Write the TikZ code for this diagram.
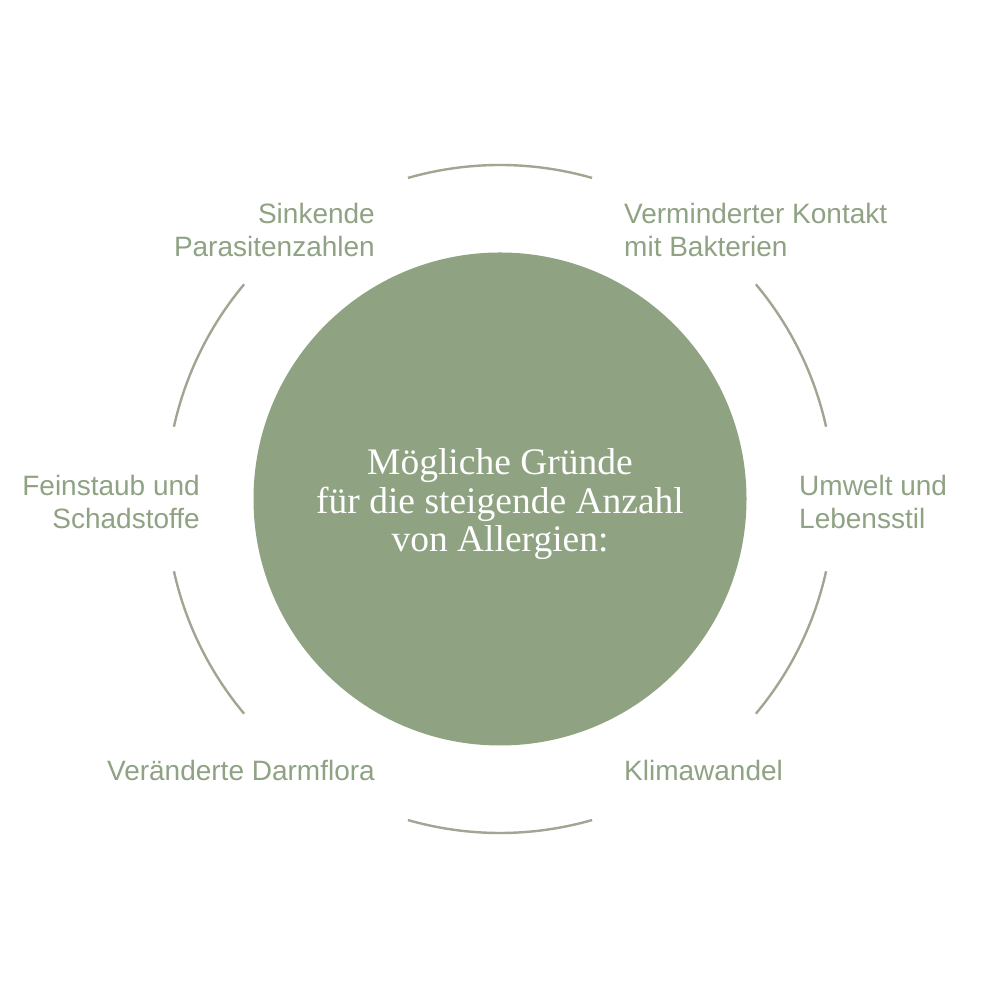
\documentclass[tikz,border=0pt]{standalone}
\usepackage{fontspec}
\setmainfont{Liberation Serif}
\newfontfamily\labelfont{Liberation Sans}
\definecolor{sage}{RGB}{143,163,130}
\definecolor{sagetext}{RGB}{143,162,132}
\definecolor{arcgray}{RGB}{160,166,146}
\begin{document}
\begin{tikzpicture}[x=1pt,y=1pt,
  lbl/.style={font=\labelfont\fontsize{28}{33}\selectfont, text=sagetext, inner sep=0pt},
  lblr/.style={lbl, align=right, anchor=base east},
  lbll/.style={lbl, align=left, anchor=base west},
  ring/.style={draw=arcgray, line width=2.4pt}]
\useasboundingbox[fill=white] (0,0) rectangle (1000,1000);
\coordinate (o) at (500,501);
\node[circle, fill=sage, minimum size=493pt, inner sep=0pt] (hub) at (o) {};
\node[font=\fontsize{37.5}{38.5}\selectfont, text=white, align=center, anchor=base, inner sep=0pt] (title) at (500,448) {Mögliche Gründe\\für die steigende Anzahl\\von Allergien:};
% ring arcs
\draw[ring] (o) ++(74:334) arc[start angle=74, end angle=106, radius=334];
\draw[ring] (o) ++(12.5:334) arc[start angle=12.5, end angle=40, radius=334];
\draw[ring] (o) ++(-40:334) arc[start angle=-40, end angle=-12.5, radius=334];
\draw[ring] (o) ++(254:334) arc[start angle=254, end angle=286, radius=334];
\draw[ring] (o) ++(192.5:334) arc[start angle=192.5, end angle=220, radius=334];
\draw[ring] (o) ++(140:334) arc[start angle=140, end angle=167.5, radius=334];
% labels
\node[lblr] (parasiten) at (375,743) {Sinkende\\Parasitenzahlen};
\node[lbll] (bakterien) at (624,743) {Verminderter Kontakt\\mit Bakterien};
\node[lblr] (feinstaub) at (200,471) {Feinstaub und\\Schadstoffe};
\node[lbll] (umwelt) at (799,471) {Umwelt und\\Lebensstil};
\node[lblr] (darmflora) at (375,219) {Veränderte Darmflora};
\node[lbll] (klima) at (624,219) {Klimawandel};
\end{tikzpicture}
\end{document}
